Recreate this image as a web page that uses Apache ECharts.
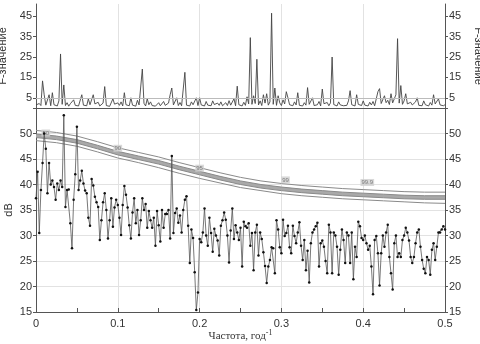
<!DOCTYPE html>
<html><head><meta charset="utf-8">
<script src="https://cdn.jsdelivr.net/npm/echarts@6/dist/echarts.min.js"></script>
<style>html,body{margin:0;padding:0;background:#fff}#c{width:480px;height:344px}</style>
</head><body><div id="c"></div>
<script>
// frequency grid step (cycles per year)
const freqStep = 0.002;

// spectrum, dB
const dbValues = [
37.3,42.5,30.5,38.9,44.2,50.0,47.0,38.3,44.2,40.0,
40.8,39.5,37.0,40.2,38.9,40.8,39.5,53.6,35.6,38.9,
39.0,32.4,27.5,37.0,42.0,51.3,38.9,40.8,42.7,40.2,
38.8,38.3,33.5,31.9,41.1,39.8,37.6,36.5,35.6,29.1,
33.0,36.5,38.3,35.0,29.4,33.0,37.3,31.7,35.5,37.0,
36.0,33.5,30.1,36.0,39.7,38.0,35.5,32.0,29.4,34.5,
37.3,32.4,35.0,30.1,33.0,37.3,35.0,36.2,31.5,34.8,
33.0,31.5,33.5,28.0,34.8,32.0,28.8,35.0,31.5,34.2,
34.2,35.0,29.4,45.6,30.5,34.4,35.3,32.5,33.9,30.6,
35.0,37.0,37.7,31.9,24.6,31.2,29.5,22.8,15.4,18.8,
29.3,28.7,30.6,35.3,30.0,28.0,33.5,30.5,26.8,31.3,
30.0,29.0,26.1,31.9,33.0,34.5,33.1,30.0,24.7,31.0,
35.3,29.3,32.0,30.6,29.1,31.5,23.9,32.7,31.8,31.5,
32.4,28.0,30.5,23.2,30.6,32.1,26.1,30.6,29.3,26.7,
24.0,20.7,23.9,25.2,27.7,27.5,22.6,33.0,31.2,27.7,
26.5,33.1,29.9,30.5,31.9,27.7,26.5,31.9,29.9,28.5,
30.6,32.6,28.0,25.2,29.1,23.2,27.0,20.8,28.5,30.6,
31.2,31.8,32.5,23.9,28.5,29.0,27.8,25.0,22.6,32.1,
30.6,22.6,30.6,30.0,27.8,22.3,27.2,31.2,29.1,24.6,
30.6,30.0,24.6,30.6,21.4,27.8,25.8,32.7,31.8,29.5,
29.1,30.0,28.5,27.2,28.0,23.9,18.5,29.1,29.9,26.5,
20.2,26.5,30.0,27.8,30.6,32.1,25.8,22.6,19.4,28.5,
30.0,25.8,26.5,25.8,29.1,30.0,31.5,30.6,29.0,25.8,
24.6,25.8,28.5,30.6,31.2,27.8,25.2,23.5,22.6,25.8,
25.2,22.3,27.2,28.5,25.2,27.8,30.6,30.6,31.2,31.8,
31.2];

// F-values
const fValues = [
1.5,0.8,2.2,1.2,13.3,6.5,1.4,2.0,6.5,1.1,
7.5,1.6,2.4,1.0,3.5,26.5,1.8,11.3,1.2,2.6,
0.9,2.1,1.5,4.0,1.3,2.2,1.0,1.8,6.5,1.4,
2.3,1.1,4.5,1.6,0.9,6.5,2.0,1.3,2.8,1.0,
1.7,2.4,10.5,1.2,2.0,0.8,1.5,4.5,1.9,1.1,
2.5,1.3,3.0,1.0,7.5,1.6,2.2,1.1,5.0,1.4,
2.0,0.9,3.8,1.5,1.2,19.1,2.3,1.0,4.5,1.6,
3.0,1.2,2.1,0.9,1.7,2.6,1.1,1.9,3.2,1.3,
1.0,2.4,6.5,9.8,1.5,2.0,5.0,1.2,2.7,1.1,
1.8,17.5,1.4,2.2,1.0,3.0,1.6,2.5,5.0,1.2,
5.0,1.5,2.0,1.0,3.2,1.4,2.1,1.1,3.5,1.7,
1.0,2.4,1.3,3.0,1.1,1.9,2.6,1.2,3.6,1.4,
2.0,4.5,1.1,10.7,1.6,2.3,1.0,2.8,1.3,5.5,
2.0,34.5,1.8,6.0,2.2,23.9,1.5,3.5,1.2,6.5,
2.4,7.0,1.4,3.0,46.5,1.8,9.8,1.3,6.0,2.5,
1.2,4.0,2.0,8.0,5.0,1.6,2.4,1.1,3.0,1.5,
7.5,1.3,2.2,1.0,2.6,1.4,10.0,1.8,2.3,5.0,
1.2,2.0,1.6,3.2,1.0,9.3,2.1,1.3,2.7,1.1,
2.5,25.0,1.7,2.3,1.0,3.0,1.5,2.2,1.1,2.0,
1.3,3.5,8.5,1.6,2.4,1.0,6.5,1.8,2.6,1.2,
3.5,1.4,2.1,1.0,2.8,1.5,3.2,1.1,2.0,8.0,
9.5,2.2,1.4,6.0,2.6,3.8,1.7,7.0,2.5,4.5,
6.5,34.0,2.4,11.0,1.8,3.5,7.0,2.0,1.2,2.8,
1.5,2.2,3.0,5.0,1.3,2.0,1.1,3.5,1.6,2.4,
1.0,2.7,1.4,6.5,2.0,1.2,4.5,1.5,2.3,1.1,
1.6];

// confidence curves
const ciFreqs = [0,0.025,0.05,0.075,0.1,0.125,0.15,0.175,0.2,0.225,0.25,0.275,0.3,0.325,0.35,0.375,0.4,0.425,0.45,0.475,0.5];
const ciUpper = [50.6,50.2,49.5,48.4,47.2,46.3,45.4,44.3,43.3,42.3,41.4,40.7,40.2,39.8,39.5,39.2,39.0,38.8,38.6,38.5,38.5];
const ciBandTop = [49.9,49.5,48.8,47.7,46.5,45.6,44.7,43.6,42.6,41.6,40.7,40.0,39.5,39.1,38.8,38.5,38.3,38.1,37.9,37.8,37.8];
const ciBandBottom = [49.2,48.8,48.1,47.0,45.8,44.9,44.0,42.9,41.9,40.9,40.0,39.3,38.8,38.4,38.1,37.8,37.6,37.4,37.2,37.1,37.1];
const ciLower = [48.6,48.2,47.5,46.4,45.2,44.3,43.3,42.2,41.2,40.3,39.4,38.8,38.2,37.8,37.5,37.2,37.0,36.8,36.6,36.4,36.3];
const ciLabelTexts = ['50','90','95','99','99.9'];
const ciLabelFreqs = [0.012,0.1,0.2,0.305,0.405];
const ciLabelValues = [50.1,47.1,43.2,40.9,40.4];

const fTicks = [5,15,25,35,45];
const dbTickMin = 15, dbTickMax = 55, dbTickStep = 5;

const pairs = (xs, ys) => ys.map((v, i) => [xs[i], v]);
const freqs = dbValues.map((_, i) => +(i * freqStep).toFixed(3));

const lab = {color:'#333', fontFamily:'Liberation Sans, Arial', fontSize:11};
const axLine = {show:true, lineStyle:{color:'#555', width:1}};
const grid = {show:true, lineStyle:{color:'#e2e2e2', width:1}};
const ciLine = {color:'#8a8a8a', width:1};

const chart = echarts.init(document.getElementById('c'), null, {renderer:'canvas'});
chart.setOption({
  animation:false,
  backgroundColor:'#fff',
  grid:[
    {left:36, right:35, top:4, height:104, outerBoundsMode:'none', containLabel:false},
    {left:36, right:35, top:108, height:204, outerBoundsMode:'none', containLabel:false}
  ],
  xAxis:[
    {type:'value', gridIndex:0, min:0, max:0.5, interval:0.1,
     axisLabel:{show:false}, axisTick:{show:false}, axisLine:axLine, splitLine:grid},
    {type:'value', gridIndex:1, min:0, max:0.5, interval:0.1,
     axisLabel:Object.assign({margin:6}, lab),
     axisTick:{show:true, inside:true, length:4, lineStyle:{color:'#555'}},
     minorTick:{show:true, splitNumber:2, length:4, lineStyle:{color:'#555'}},
     axisLine:axLine, splitLine:grid,
     name:'{a|Частота, год}{b|-1}', nameLocation:'middle', nameGap:17, nameMoveOverlap:false,
     nameTextStyle:{rich:{
       a:{fontFamily:'Liberation Serif, Times New Roman', fontSize:11, color:'#333'},
       b:{fontFamily:'Liberation Serif, Times New Roman', fontSize:8, color:'#333', verticalAlign:'top', padding:[0,0,6,0]}
     }}}
  ],
  yAxis:[
    {type:'value', gridIndex:0, min:0, max:51, position:'left',
     axisLabel:Object.assign({customValues:fTicks, margin:4}, lab),
     axisTick:{show:true, customValues:fTicks, length:3, lineStyle:{color:'#555'}},
     axisLine:axLine, splitLine:{show:false},
     name:'F-значение', nameLocation:'middle', nameGap:22, nameRotate:90,
     nameTextStyle:{color:'#333', fontFamily:'Liberation Sans, Arial', fontSize:11}},
    {type:'value', gridIndex:0, min:0, max:51, position:'right',
     axisLabel:Object.assign({customValues:fTicks, margin:4}, lab),
     axisTick:{show:true, customValues:fTicks, length:3, lineStyle:{color:'#555'}},
     axisLine:axLine, splitLine:{show:false},
     name:'F-значение', nameLocation:'middle', nameGap:20, nameRotate:-90,
     nameTextStyle:{color:'#333', fontFamily:'Liberation Sans, Arial', fontSize:11}},
    {type:'value', gridIndex:1, min:dbTickMin, max:dbTickMax, interval:dbTickStep, position:'left',
     axisLabel:Object.assign({margin:4, formatter:v => v === dbTickMax ? '' : String(v)}, lab),
     axisTick:{show:true, length:3, lineStyle:{color:'#555'}},
     axisLine:axLine, splitLine:grid,
     name:'dB', nameLocation:'middle', nameGap:22, nameRotate:90, nameMoveOverlap:false,
     nameTextStyle:{color:'#333', fontFamily:'Liberation Sans, Arial', fontSize:11}},
    {type:'value', gridIndex:1, min:dbTickMin, max:dbTickMax, interval:dbTickStep, position:'right',
     axisLabel:Object.assign({margin:4, formatter:v => v === dbTickMax ? '' : String(v)}, lab),
     axisTick:{show:true, length:3, lineStyle:{color:'#555'}},
     axisLine:axLine, splitLine:{show:false}}
  ],
  series:[
    {type:'line', xAxisIndex:0, yAxisIndex:0, data:pairs(freqs, fValues), symbol:'none',
     lineStyle:{color:'#444', width:0.9}, z:3,
     markLine:{silent:true, symbol:'none', label:{show:false},
       lineStyle:{color:'#bbb', type:'solid', width:1}, data:[{yAxis:5}]}},
    {type:'custom', xAxisIndex:1, yAxisIndex:2, data:[0], z:1, silent:true,
     renderItem:(params, api) => {
       const top = ciFreqs.map((f, i) => api.coord([f, ciBandTop[i]]));
       const bot = ciFreqs.map((f, i) => api.coord([f, ciBandBottom[i]])).reverse();
       return {type:'polygon', shape:{points:top.concat(bot)}, style:{fill:'#a9a9a9', stroke:null}};
     }},
    {type:'line', xAxisIndex:1, yAxisIndex:2, data:pairs(ciFreqs, ciLower), symbol:'none', lineStyle:ciLine, z:2},
    {type:'line', xAxisIndex:1, yAxisIndex:2, data:pairs(ciFreqs, ciBandBottom), symbol:'none', lineStyle:ciLine, z:2},
    {type:'line', xAxisIndex:1, yAxisIndex:2, data:pairs(ciFreqs, ciBandTop), symbol:'none', lineStyle:ciLine, z:2},
    {type:'line', xAxisIndex:1, yAxisIndex:2, data:pairs(ciFreqs, ciUpper), symbol:'none', lineStyle:ciLine, z:2},
    {type:'scatter', xAxisIndex:1, yAxisIndex:2, symbolSize:0, z:4,
     data:ciLabelFreqs.map((f, i) => ({value:[f, ciLabelValues[i]], label:{formatter:ciLabelTexts[i]}})),
     label:{show:true, position:'inside', fontSize:6, color:'#666', fontFamily:'Liberation Sans, Arial',
       backgroundColor:'#cfcfcf', padding:[1,1,0,1]}},
    {type:'line', xAxisIndex:1, yAxisIndex:2, data:pairs(freqs, dbValues),
     symbol:'circle', symbolSize:2.5, itemStyle:{color:'#111'},
     lineStyle:{color:'#555', width:0.8}, z:5}
  ]
});
</script></body></html>
